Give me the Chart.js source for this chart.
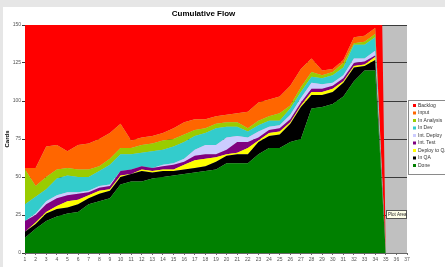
<!DOCTYPE html>
<html>
<head>
<meta charset="utf-8">
<script src="https://cdn.jsdelivr.net/npm/chart.js@4.4.0/dist/chart.umd.min.js"></script>
<style>
  html, body { margin: 0; padding: 0; background: #e6e6e6; }
  #flowChart { position: absolute; left: 0; top: 0; }
</style>
</head>
<body>
<canvas id="flowChart" width="445" height="267"></canvas>
<script>
const days = ['1', '2', '3', '4', '5', '6', '7', '8', '9', '10', '11', '12', '13', '14', '15', '16', '17', '18', '19',
    '20', '21', '22', '23', '24', '25', '26', '27', '28', '29', '30', '31', '32', '33', '34', '35', '36', '37'];

// cards per state, day 1..35
const done       = [10, 16, 21, 24, 26, 27, 32, 34, 36, 45, 47, 47, 49, 50, 51, 52, 53, 54, 55, 59, 59, 59, 65, 69, 69, 73, 75, 95, 96, 98, 103, 113, 120, 120, 0];
const inQa       = [4, 3, 5, 5, 4, 5, 4, 5, 5, 5, 5, 7, 4, 4, 3, 3, 3, 3, 5, 5, 6, 6, 8, 8, 9, 12, 21, 9, 8, 8, 9, 9, 3, 7, 0];
const deployToQa = [0, 1, 1, 2, 4, 3, 2, 2, 1, 1, 0, 1, 1, 1, 1, 3, 5, 5, 3, 1, 1, 4, 1, 2, 2, 1, 1, 2, 2, 2, 1, 1, 1, 2, 0];
const intTest    = [7, 5, 5, 5, 4, 4, 2, 2, 2, 3, 3, 2, 2, 2, 3, 2, 3, 3, 2, 3, 7, 4, 2, 2, 2, 2, 2, 2, 2, 2, 2, 2, 2, 1, 0];
const intDeploy  = [0, 1, 2, 2, 2, 1, 1, 1, 1, 0, 0, 0, 0, 1, 1, 2, 4, 6, 6, 8, 4, 3, 4, 2, 2, 3, 3, 4, 3, 2, 2, 3, 2, 3, 0];
const inDev      = [11, 11, 8, 11, 11, 10, 9, 10, 13, 11, 10, 9, 11, 10, 11, 11, 9, 8, 11, 7, 6, 4, 4, 4, 3, 4, 4, 4, 4, 5, 5, 9, 9, 9, 0];
const inAnalysis = [23, 7, 8, 6, 5, 5, 5, 3, 4, 4, 4, 5, 5, 6, 5, 5, 4, 3, 3, 3, 3, 2, 3, 3, 5, 2, 3, 3, 2, 2, 3, 1, 2, 2, 0];
const input      = [1, 12, 20, 16, 11, 16, 17, 18, 17, 16, 5, 5, 5, 5, 7, 8, 7, 6, 5, 5, 6, 11, 12, 11, 11, 13, 12, 9, 3, 2, 2, 4, 4, 4, 0];
// backlog runs off the top of the axis; its size is guessed from the slope of the drop at day 35
const backlog    = [394, 394, 380, 379, 383, 379, 378, 375, 371, 365, 376, 374, 373, 371, 368, 364, 362, 362, 360, 359, 358, 357, 351, 349, 347, 340, 329, 322, 330, 329, 323, 308, 307, 302, 0];

const yTicks = [0, 25, 50, 75, 100, 125, 150];

const FONT = '"Liberation Sans", Arial, sans-serif';

function layer(label, data, color, fill) {
    return {
        label: label,
        data: data,
        backgroundColor: color,
        borderColor: color,
        borderWidth: 0,
        pointRadius: 0,
        tension: 0,
        fill: fill
    };
}

// grey page, white chart sheet, grey plot area
const backdrop = {
    id: 'backdrop',
    beforeDraw(chart) {
        const ctx = chart.ctx, a = chart.chartArea;
        ctx.save();
        ctx.fillStyle = '#e6e6e6';
        ctx.fillRect(0, 0, chart.width, chart.height);
        ctx.fillStyle = '#ffffff';
        ctx.fillRect(3, 7, chart.width - 3, chart.height - 7);
        ctx.fillStyle = '#c0c0c0';
        ctx.fillRect(a.left, a.top, a.right - a.left, a.bottom - a.top);
        ctx.restore();
    }
};

// Excel style legend box on the right, plus the "Plot Area" hover tag
const boxLegend = {
    id: 'boxLegend',
    afterDraw(chart) {
        const ctx = chart.ctx;
        const x = 408, y = 100;
        ctx.save();
        ctx.fillStyle = '#ffffff';
        ctx.fillRect(x, y, 45, 74);
        ctx.strokeStyle = '#8a8a8a';
        ctx.lineWidth = 1;
        ctx.strokeRect(x + 0.5, y + 0.5, 45, 74);
        ctx.font = '5px ' + FONT;
        ctx.textBaseline = 'middle';
        chart.data.datasets.slice().reverse().forEach((ds, i) => {
            const cy = y + 5.5 + i * 7.5;
            ctx.fillStyle = ds.backgroundColor;
            ctx.fillRect(x + 5, cy - 1.5, 3, 3);
            ctx.fillStyle = '#333';
            ctx.fillText(ds.label, x + 10, cy);
        });

        ctx.fillStyle = '#ffffe8';
        ctx.fillRect(386.5, 210.5, 20, 8);
        ctx.strokeStyle = '#555';
        ctx.strokeRect(386.5, 210.5, 20, 8);
        ctx.fillStyle = '#222';
        ctx.font = '4.5px ' + FONT;
        ctx.fillText('Plot Area', 388, 214.8);
        ctx.restore();
    }
};

new Chart(document.getElementById('flowChart').getContext('2d'), {
    type: 'line',
    data: {
        labels: days,
        datasets: [
            layer('Done', done, '#008000', 'origin'),
            layer('In QA', inQa, '#000000', '-1'),
            layer('Deploy to QA', deployToQa, '#ffff00', '-1'),
            layer('Int. Test', intTest, '#800080', '-1'),
            layer('Int. Deploy', intDeploy, '#ccccff', '-1'),
            layer('In Dev', inDev, '#33cccc', '-1'),
            layer('In Analysis', inAnalysis, '#99cc00', '-1'),
            layer('Input', input, '#ff6600', '-1'),
            layer('Backlog', backlog, '#ff0000', '-1')
        ]
    },
    options: {
        responsive: false,
        animation: false,
        devicePixelRatio: 1,
        layout: { padding: { left: 0, right: 38, top: 0, bottom: 0 } },
        plugins: {
            legend: { display: false },
            tooltip: { enabled: false },
            title: {
                display: true,
                text: 'Cumulative Flow',
                color: '#000',
                font: { family: FONT, size: 8, weight: 'bold' },
                padding: { top: 9, bottom: 6.4 }
            }
        },
        scales: {
            x: {
                offset: false,
                afterFit(scale) { scale.height = 14; },
                grid: { display: true, drawOnChartArea: false, color: '#666', tickLength: 2 },
                border: { color: '#666' },
                ticks: {
                    color: '#555',
                    font: { family: FONT, size: 5 },
                    padding: 2,
                    maxRotation: 0,
                    autoSkip: false
                },
                title: {
                    display: true,
                    text: 'Days',
                    color: '#000',
                    font: { family: FONT, size: 6, weight: 'bold' },
                    padding: { top: 0, bottom: -6 }
                }
            },
            y: {
                stacked: true,
                min: 0,
                max: 150,
                afterFit(scale) { scale.width = 25; },
                afterBuildTicks(scale) { scale.ticks = yTicks.map(v => ({ value: v })); },
                grid: { color: '#3a3a3a', tickLength: 3 },
                border: { color: '#666' },
                ticks: {
                    color: '#555',
                    font: { family: FONT, size: 5 },
                    padding: 1
                },
                title: {
                    display: true,
                    text: 'Cards',
                    color: '#000',
                    font: { family: FONT, size: 6, weight: 'bold' },
                    padding: { top: 4, bottom: 0 }
                }
            }
        }
    },
    plugins: [backdrop, boxLegend]
});
</script>
</body>
</html>
